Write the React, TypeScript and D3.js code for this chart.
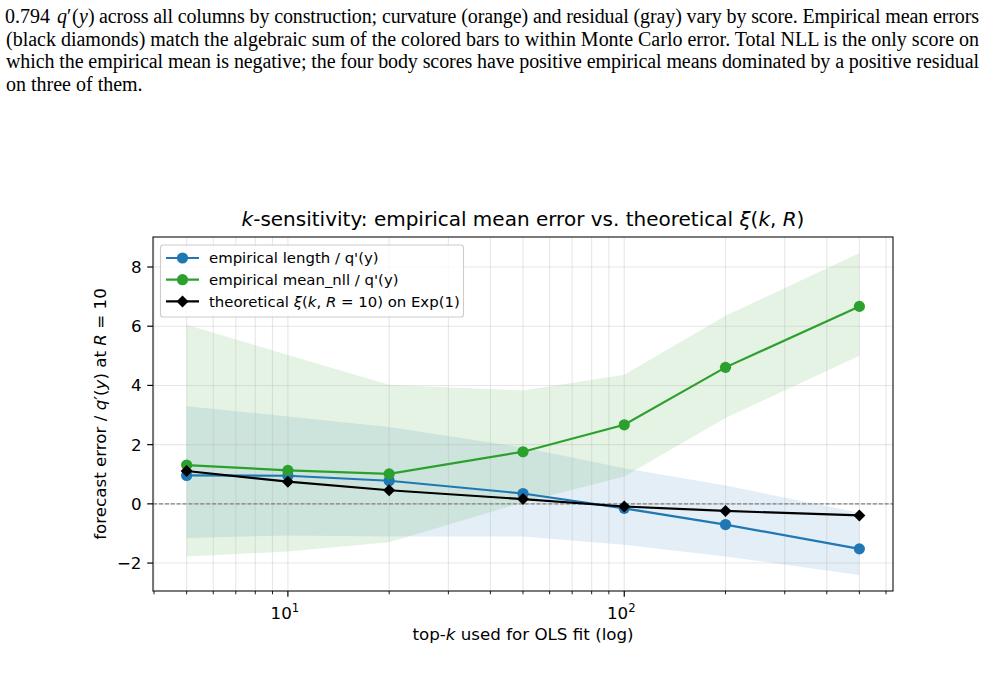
import React from 'react';
import * as d3 from 'd3';

// top-k values used for the OLS fit
const kValues = [5, 10, 20, 50, 100, 200, 500];

// empirical length / q'(y): mean and band
const lengthMean = [0.96, 0.95, 0.78, 0.35, -0.15, -0.7, -1.52];
const lengthLo = [-1.15, -1.07, -1.1, -1.1, -1.38, -1.78, -2.4];
const lengthHi = [3.3, 2.95, 2.6, 1.9, 1.2, 0.62, -0.3];

// empirical mean_nll / q'(y): mean and band
const nllMean = [1.31, 1.13, 1.01, 1.76, 2.67, 4.61, 6.67];
const nllLo = [-1.78, -1.61, -1.3, 0.05, 0.92, 2.9, 5.0];
const nllHi = [6.05, 5.03, 4.02, 3.83, 4.36, 6.35, 8.47];

// theoretical xi(k, R=10) on Exp(1)
const xiTheory = [1.11, 0.75, 0.46, 0.16, -0.09, -0.24, -0.39];

const yTicks = [-2, 0, 2, 4, 6, 8];
const xMajor = [10, 100];
const xMinor = [4, 5, 6, 7, 8, 9, 20, 30, 40, 50, 60, 70, 80, 90, 200, 300, 400, 500, 600];

const paragraph = [
  'across all columns by construction; curvature (orange) and residual (gray) vary by score. Empirical mean errors',
  '(black diamonds) match the algebraic sum of the colored bars to within Monte Carlo error. Total NLL is the only score on',
  'which the empirical mean is negative; the four body scores have positive empirical means dominated by a positive residual',
  'on three of them.',
];

const BLUE = '#1f77b4';
const GREEN = '#2ca02c';
const FONT = "'DejaVu Sans', sans-serif";
const SERIF = "'Liberation Serif', 'Times New Roman', serif";

const W = 985;
const H = 681;
const plot = { left: 153, right: 893, top: 237, bottom: 591 };

const App = () => {
  const lkMin = Math.log10(d3.min(kValues)!);
  const lkMax = Math.log10(d3.max(kValues)!);
  const xPad = (lkMax - lkMin) * 0.05;
  const x = d3.scaleLog()
    .domain([Math.pow(10, lkMin - xPad), Math.pow(10, lkMax + xPad)])
    .range([plot.left, plot.right]);

  const yMin = d3.min(lengthLo)!;
  const yMax = d3.max(nllHi)!;
  const yPad = (yMax - yMin) * 0.05;
  const y = d3.scaleLinear()
    .domain([yMin - yPad, yMax + yPad])
    .range([plot.bottom, plot.top]);

  const makeBand = (lo: number[], hi: number[]) =>
    d3.area<number>()
      .x(k => x(k))
      .y0((_, i) => y(lo[i]))
      .y1((_, i) => y(hi[i]))(kValues)!;

  const line = (vals: number[]) =>
    d3.line<number>()
      .x((_, i) => x(kValues[i]))
      .y(d => y(d))(vals)!;

  const diamond = (cx: number, cy: number, r: number) =>
    `M${cx},${cy - r}L${cx + r},${cy}L${cx},${cy + r}L${cx - r},${cy}Z`;

  const legendItems = [
    { color: BLUE, marker: 'circle', label: <tspan>empirical length / q'(y)</tspan> },
    { color: GREEN, marker: 'circle', label: <tspan>empirical mean_nll / q'(y)</tspan> },
    {
      color: '#000',
      marker: 'diamond',
      label: (
        <>
          <tspan>theoretical </tspan>
          <tspan fontStyle="italic">ξ</tspan>
          <tspan>(</tspan>
          <tspan fontStyle="italic">k</tspan>
          <tspan>, </tspan>
          <tspan fontStyle="italic">R</tspan>
          <tspan> = 10) on Exp(1)</tspan>
        </>
      ),
    },
  ];

  const gridStroke = { stroke: '#b0b0b0', strokeOpacity: 0.3, strokeWidth: 1.1 };

  return (
    <svg width={W} height={H} style={{ position: 'absolute', left: 0, top: 0, background: '#fff' }}>
      {/* paragraph above the figure */}
      <g fontFamily={SERIF} fontSize={20} fill="#000">
        <text x={5} y={23}>0.794</text>
        <text x={57} y={23} fontStyle="italic">q</text>
        <text x={67} y={23}>′</text>
        <text x={72} y={23}>(</text>
        <text x={79} y={23} fontStyle="italic">y</text>
        <text x={88} y={23}>)</text>
        {paragraph.map((t, i) => (
          <text
            key={i}
            x={i === 0 ? 99 : 6}
            y={23 + i * 22.6}
            textLength={i === 3 ? undefined : i === 0 ? 880 : 973}
            lengthAdjust="spacing"
          >
            {t}
          </text>
        ))}
      </g>

      <clipPath id="plotClip">
        <rect x={plot.left} y={plot.top} width={plot.right - plot.left} height={plot.bottom - plot.top} />
      </clipPath>

      <g clipPath="url(#plotClip)">
        {/* bands */}
        <path d={makeBand(lengthLo, lengthHi)} fill={BLUE} fillOpacity={0.12} />
        <path d={makeBand(nllLo, nllHi)} fill={GREEN} fillOpacity={0.12} />

        {/* grid */}
        {[...xMajor, ...xMinor].map(v => (
          <line key={`gx${v}`} x1={x(v)} x2={x(v)} y1={plot.top} y2={plot.bottom} {...gridStroke} />
        ))}
        {yTicks.map(v => (
          <line key={`gy${v}`} x1={plot.left} x2={plot.right} y1={y(v)} y2={y(v)} {...gridStroke} />
        ))}

        {/* zero reference */}
        <line x1={plot.left} x2={plot.right} y1={y(0)} y2={y(0)} stroke="#808080" strokeWidth={1.1} strokeDasharray="4.1,1.8" />

        {/* series */}
        <path d={line(lengthMean)} fill="none" stroke={BLUE} strokeWidth={2.2} />
        {lengthMean.map((v, i) => (
          <circle key={`b${i}`} cx={x(kValues[i])} cy={y(v)} r={5.6} fill={BLUE} />
        ))}
        <path d={line(nllMean)} fill="none" stroke={GREEN} strokeWidth={2.2} />
        {nllMean.map((v, i) => (
          <circle key={`g${i}`} cx={x(kValues[i])} cy={y(v)} r={5.6} fill={GREEN} />
        ))}
        <path d={line(xiTheory)} fill="none" stroke="#000" strokeWidth={2.2} />
        {xiTheory.map((v, i) => (
          <path key={`k${i}`} d={diamond(x(kValues[i]), y(v), 6)} fill="#000" />
        ))}
      </g>

      {/* spines */}
      <rect x={plot.left} y={plot.top} width={plot.right - plot.left} height={plot.bottom - plot.top} fill="none" stroke="#222" strokeWidth={1.2} />

      {/* ticks */}
      <g fontFamily={FONT} fontSize={16.7} fill="#000">
        {xMajor.map(v => (
          <g key={`xt${v}`}>
            <line x1={x(v)} x2={x(v)} y1={plot.bottom} y2={plot.bottom + 5.8} stroke="#000" strokeWidth={1.2} />
            <text x={x(v) - 3} y={619} textAnchor="middle">
              10<tspan dy={-7} fontSize={11.7}>{Math.round(Math.log10(v))}</tspan>
            </text>
          </g>
        ))}
        {xMinor.map(v => (
          <line key={`xm${v}`} x1={x(v)} x2={x(v)} y1={plot.bottom} y2={plot.bottom + 3.3} stroke="#000" strokeWidth={0.9} />
        ))}
        {yTicks.map(v => (
          <g key={`yt${v}`}>
            <line x1={plot.left - 5.8} x2={plot.left} y1={y(v)} y2={y(v)} stroke="#000" strokeWidth={1.2} />
            <text x={plot.left - 11.5} y={y(v)} dy="0.36em" textAnchor="end">
              {v < 0 ? `\u2212${Math.abs(v)}` : v}
            </text>
          </g>
        ))}
      </g>

      {/* axis labels */}
      <text x={(plot.left + plot.right) / 2} y={640} textAnchor="middle" fontFamily={FONT} fontSize={16.7}>
        top-<tspan fontStyle="italic">k</tspan> used for OLS fit (log)
      </text>
      <text
        transform={`translate(106,${(plot.top + plot.bottom) / 2}) rotate(-90)`}
        textAnchor="middle"
        fontFamily={FONT}
        fontSize={16.7}
      >
        forecast error / <tspan fontStyle="italic">q</tspan>′(<tspan fontStyle="italic">y</tspan>) at{' '}
        <tspan fontStyle="italic">R</tspan> = 10
      </text>

      {/* title */}
      <text x={(plot.left + plot.right) / 2} y={226} textAnchor="middle" fontFamily={FONT} fontSize={20}>
        <tspan fontStyle="italic">k</tspan>-sensitivity: empirical mean error vs. theoretical{' '}
        <tspan fontStyle="italic">ξ</tspan>(<tspan fontStyle="italic">k</tspan>, <tspan fontStyle="italic">R</tspan>)
      </text>

      {/* legend */}
      <g>
        <rect x={160.5} y={245} width={303} height={72} rx={2.8} fill="#fff" fillOpacity={0.8} stroke="#cccccc" strokeWidth={1.1} />
        {legendItems.map((it, i) => {
          const cy = 258 + i * 21.7;
          return (
            <g key={`lg${i}`}>
              <line x1={166} x2={199} y1={cy} y2={cy} stroke={it.color} strokeWidth={2.2} />
              {it.marker === 'circle'
                ? <circle cx={182.5} cy={cy} r={5.6} fill={it.color} />
                : <path d={diamond(182.5, cy, 6)} fill={it.color} />}
              <text x={209} y={cy} dy="0.36em" fontFamily={FONT} fontSize={14.9}>
                {it.label}
              </text>
            </g>
          );
        })}
      </g>
    </svg>
  );
};

export default App;
